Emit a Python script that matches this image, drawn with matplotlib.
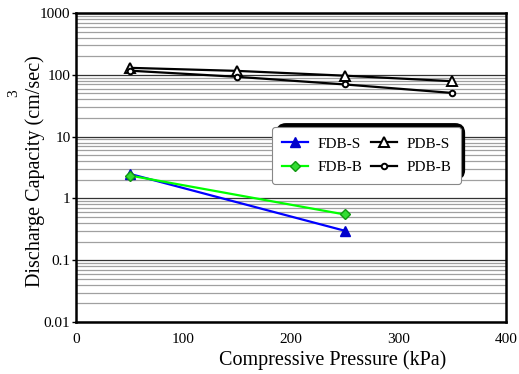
import matplotlib
matplotlib.use("Agg")
import matplotlib.pyplot as plt
from matplotlib.patches import FancyBboxPatch
from matplotlib.ticker import LogLocator, FixedLocator, NullFormatter

plt.rcParams['font.family'] = ['Liberation Serif', 'DejaVu Serif']

# pressures (kPa) and discharge capacity (cm3/sec)
fdb_x = [50, 250]
fdb_s = [2.5, 0.30]
fdb_b = [2.35, 0.55]

pdb_x = [50, 150, 250, 350]
pdb_s = [130, 116, 97, 79]
pdb_b = [117, 93, 70, 51]

y_ticks = [0.01, 0.1, 1, 10, 100, 1000]
y_labels = ["0.01", "0.1", "1", "10", "100", "1000"]
x_ticks = [0, 100, 200, 300, 400]

fig = plt.figure(figsize=(5.19, 3.74), dpi=100)
ax = fig.add_axes([0.1464, 0.139, 0.975 - 0.1464, 0.965 - 0.139])

ax.set_yscale("log")
ax.set_xlim(0, 400)
ax.set_ylim(0.01, 1000)

# horizontal grid: dark at decades, gray in between
ax.yaxis.set_minor_locator(LogLocator(base=10, subs=range(2, 10)))
ax.yaxis.set_minor_formatter(NullFormatter())
ax.grid(True, axis="y", which="major", color="#333333", lw=0.9)
ax.grid(True, axis="y", which="minor", color="#a0a0a0", lw=0.9)
ax.set_axisbelow(True)

ax.plot(fdb_x, fdb_s, color="#0000ff", lw=1.6, marker="^", ms=7,
        mfc="#0000cc", mec="#0000cc", label="FDB-S", zorder=3)
ax.plot(fdb_x, fdb_b, color="#00ff00", lw=1.6, marker="D", ms=5.5,
        mfc="#33dd33", mec="#119911", label="FDB-B", zorder=3)
ax.plot(pdb_x, pdb_s, color="black", lw=1.6, marker="^", ms=7,
        mfc="white", mec="black", mew=1.4, label="PDB-S", zorder=3)
ax.plot(pdb_x, pdb_b, color="black", lw=1.6, marker="o", ms=4,
        mfc="white", mec="black", mew=1.4, label="PDB-B", zorder=3)

ax.yaxis.set_major_locator(FixedLocator(y_ticks))
ax.set_yticklabels(y_labels)
ax.set_xticks(x_ticks)
ax.tick_params(axis="y", which="major", labelsize=11, length=3, width=1,
               direction="out", pad=1)
ax.tick_params(axis="x", which="major", labelsize=11, length=0, pad=8)
ax.tick_params(axis="y", which="minor", length=0)
for s in ax.spines.values():
    s.set_linewidth(1.8)
    s.set_color("black")

fig.text(333 / 519, 1 - 360 / 374, "Compressive Pressure (kPa)", fontsize=14.5,
         ha="center", va="center")
fig.text(35 / 519, 1 - 171 / 374, "Discharge Capacity (cm/sec)", fontsize=14.5,
         rotation=90, ha="center", va="center")
fig.text(14 / 519, 1 - 93 / 374, "3", fontsize=11, rotation=90,
         ha="center", va="center")

leg = ax.legend(ncol=2, loc="upper left", bbox_to_anchor=(0.456, 0.631),
                borderaxespad=0, fontsize=11, frameon=True, fancybox=True,
                edgecolor="#888888", framealpha=1, handlelength=1.7,
                columnspacing=0.6, handletextpad=0.6, borderpad=0.65,
                labelspacing=0.63)
leg.set_zorder(5)
leg.get_frame().set_linewidth(0.8)

# black shadow offset up and right, behind the legend box
fig.canvas.draw()
bb = leg.get_frame().get_window_extent()
pad = 4
shadow = FancyBboxPatch((bb.x0 + pad, bb.y0 + pad), bb.width, bb.height,
                        boxstyle="round,pad=0,rounding_size=10",
                        transform=None, facecolor="black", edgecolor="none",
                        zorder=4)
ax.add_artist(shadow)

fig.savefig("out.png", dpi=100)
